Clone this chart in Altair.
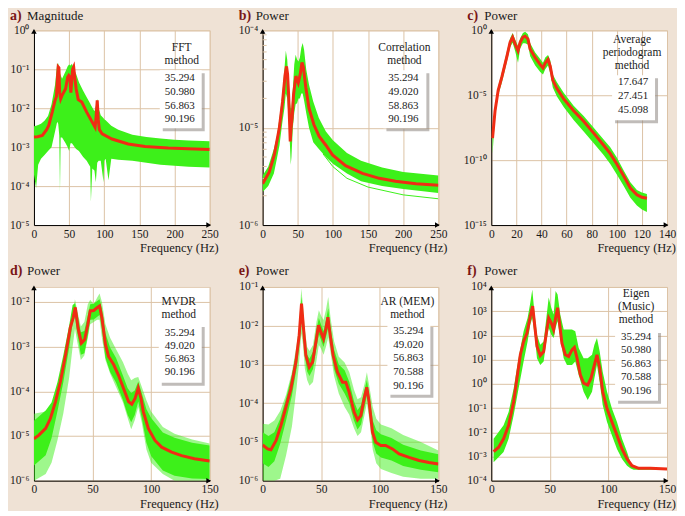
import altair as alt
import pandas as pd

# ---------------- data (log10 exponents) ----------------
# a) FFT magnitude
a_band_f = [0, 3, 6, 10, 15, 20, 25, 30, 33, 34.5, 36, 37, 38, 40, 45, 48, 50, 52, 54, 56,
            58, 60, 64, 70, 75, 80, 81, 83, 86, 88, 90, 92, 95, 99, 100, 102, 106, 110, 120, 140,
            160, 180, 200, 220, 250]
a_band_hi = [-2.46, -2.45, -2.43, -2.40, -2.32, -2.20, -1.90, -1.40, -0.86, -0.85,
             -1.00, -1.10, -1.15, -1.24, -1.05, -0.92, -0.88, -0.90, -0.86, -0.95,
             -1.05, -1.12, -1.33, -1.55, -1.72, -1.88, -1.92, -1.98, -2.08, -1.95,
             -1.76, -2.00, -2.18, -2.26, -2.28, -2.31, -2.38, -2.45, -2.55, -2.68,
             -2.74, -2.78, -2.81, -2.83, -2.85]
a_band_lo = [-3.70, -4.05, -3.45, -3.30, -3.20, -3.10, -3.00, -2.60, -2.35, -2.40,
             -2.70, -4.15, -2.75, -2.75, -2.90, -3.00, -3.10, -2.90, -2.90, -2.95,
             -3.00, -3.05, -3.10, -3.25, -3.35, -3.50, -4.40, -3.55, -3.60, -3.90,
             -3.40, -3.35, -3.35, -3.90, -3.35, -3.30, -3.85, -3.30, -3.32, -3.35,
             -3.40, -3.45, -3.48, -3.50, -3.52]
a_red_f = [0, 5, 12, 18, 21, 26, 30, 32, 33.5, 34.5, 35.5, 36.5, 38, 40, 45, 48, 49.5, 51, 52.5, 53.5,
           55, 56.5, 58, 60, 63, 68, 75, 83, 87, 88.5, 90, 91.5, 93, 97, 111, 134, 158, 191, 219, 250]
a_red_v = [-2.74, -2.73, -2.70, -2.55, -2.44, -2.10, -1.80, -1.70, -1.20, -0.94,
           -0.96, -1.60, -1.76, -1.67, -1.50, -1.20, -1.16, -1.20, -1.60, -1.35,
           -1.00, -0.94, -1.20, -1.50, -1.78, -1.84, -2.10, -2.36, -2.49, -2.20,
           -1.80, -2.30, -2.55, -2.66, -2.79, -2.92, -2.98, -3.02, -3.04, -3.06]

# b) Correlation method
b_band_f = [0, 8, 16, 20, 24, 28, 31, 33, 35, 37, 39, 40, 41, 43, 45, 47, 49, 51, 53, 55,
            57, 59, 62, 66, 72, 80, 90, 100, 120, 140, 170, 200, 250]
b_band_hi = [-5.49, -5.40, -5.22, -5.10, -4.90, -4.66, -4.40, -4.21, -4.30, -4.55,
             -4.75, -4.80, -4.80, -4.60, -4.35, -4.25, -4.30, -4.32, -4.28, -4.18,
             -4.13, -4.20, -4.40, -4.56, -4.73, -4.90, -5.04, -5.13, -5.26, -5.34,
             -5.41, -5.455, -5.49]
b_band_lo = [-5.66, -5.60, -5.47, -5.33, -5.18, -4.95, -4.80, -4.65, -4.70, -4.90,
             -5.20, -5.38, -5.30, -5.00, -4.85, -4.76, -4.75, -4.70, -4.70, -4.65,
             -4.65, -4.72, -4.85, -5.00, -5.15, -5.22, -5.30, -5.37, -5.47, -5.55,
             -5.60, -5.63, -5.67]
b_out_f = [86, 100, 120, 150, 200, 250]
b_out_v = [-5.27, -5.40, -5.52, -5.61, -5.69, -5.73]
b_red_f = [0, 9.5, 16.6, 23.7, 28.4, 32, 34, 35.5, 37, 39.3, 40.5, 42, 44, 47.3, 50.7, 53.5, 56, 58,
           61.5, 66, 73, 80.5, 90, 99.4, 118, 142, 166, 189, 218, 250]
b_red_v = [-5.576, -5.455, -5.28, -5.007, -4.73, -4.455, -4.37, -4.45, -4.66, -5.14,
           -5.0, -4.9, -4.66, -4.47, -4.54, -4.45, -4.33, -4.38, -4.59, -4.80,
           -4.97, -5.09, -5.18, -5.28, -5.39, -5.47, -5.52, -5.55, -5.576, -5.59]
b_minor = [2e-6, 3e-6, 4e-6, 5e-6, 6e-6, 7e-6, 8e-6, 9e-6,
           2e-5, 3e-5, 4e-5, 5e-5, 6e-5, 7e-5, 8e-5, 9e-5]

# c) Average periodogram
c_f = [1, 3, 5.5, 8.5, 12.5, 15, 17, 19, 21.3, 23, 25.2, 27, 29.2, 31, 35, 39, 41.2, 43, 45.2, 47,
       49, 52.3, 57.7, 65.6, 73.6, 81.6, 89.5, 94.8, 100, 105.5, 110.8, 116, 120, 124]
c_red = [-8.3, -6.2, -4.62, -3.56, -1.98, -0.92, -0.53, -1.06, -1.58, -0.92,
         -0.53, -0.45, -0.66, -1.45, -2.11, -2.64, -2.90, -2.51, -2.24, -2.77,
         -3.83, -4.49, -5.28, -6.2, -7.0, -7.92, -8.85, -9.5, -10.3, -11.22,
         -12.15, -12.67, -12.86, -12.94]
c_hi = [-7.9, -5.9, -4.3, -3.2, -1.6, -0.6, -0.2, -0.7, -1.2, -0.6,
        -0.2, -0.1, -0.3, -1.0, -1.7, -2.2, -2.5, -2.1, -1.9, -2.3,
        -3.4, -4.0, -4.8, -5.8, -6.6, -7.5, -8.4, -9.0, -9.8, -10.8,
        -11.7, -12.3, -12.5, -12.6]
c_lo = [-9.5, -6.7, -5.0, -4.0, -2.4, -1.3, -0.95, -1.6, -2.5, -1.4,
        -1.0, -1.0, -1.1, -2.0, -2.7, -3.2, -3.4, -3.0, -2.7, -3.3,
        -4.4, -5.1, -5.9, -6.9, -7.8, -8.7, -9.6, -10.3, -11.1, -12.0,
        -12.9, -13.5, -13.8, -14.0]

# d) MVDR
d_band_f = [0, 10, 15, 20, 25, 30, 33, 35, 37, 40, 43, 46, 48, 51, 54, 56, 58, 61, 65, 70,
            76, 80, 83, 86, 89, 92, 96, 100, 110, 120, 135, 150]
d_out_hi = [-4.50, -4.45, -4.30, -3.95, -3.50, -2.90, -2.30, -1.94, -2.20, -2.55,
            -2.45, -2.05, -1.95, -2.05, -1.90, -1.81, -2.00, -2.50, -2.80, -3.05,
            -3.35, -3.60, -3.75, -3.70, -3.68, -3.90, -4.20, -4.45, -4.80, -4.95,
            -5.08, -5.17]
d_out_lo = [-6.0, -5.85, -5.6, -5.1, -4.5, -3.7, -3.0, -2.6, -2.9, -3.3,
            -3.2, -2.8, -2.5, -2.45, -2.4, -2.4, -2.8, -3.3, -3.6, -3.9,
            -4.25, -4.6, -4.85, -4.65, -4.35, -4.7, -5.3, -5.6, -5.85, -6.0,
            -6.0, -6.0]
d_in_hi = [-4.66, -4.43, -4.25, -3.80, -3.20, -2.53, -2.07, -2.03, -2.25, -2.68,
           -2.65, -2.30, -2.05, -2.04, -1.98, -1.94, -2.15, -2.70, -3.02, -3.25,
           -3.65, -3.93, -4.04, -3.98, -3.78, -4.04, -4.40, -4.60, -4.92, -5.04,
           -5.15, -5.21]
d_in_lo = [-5.66, -5.43, -5.05, -4.45, -3.80, -3.03, -2.47, -2.33, -2.70, -3.18,
           -3.15, -2.75, -2.40, -2.39, -2.33, -2.29, -2.60, -3.25, -3.57, -3.80,
           -4.20, -4.53, -4.69, -4.53, -4.23, -4.59, -5.15, -5.45, -5.77, -5.89,
           -5.95, -5.96]
d_red_f = [0, 4.2, 10, 14, 18.4, 22.6, 27, 31, 33.5, 35.3, 37.6, 40.5, 43.3, 46, 48, 51, 53.8, 56, 58, 61,
           63.7, 68, 72, 76.4, 80.7, 83.5, 86.3, 89, 91.4, 93.4, 97.6, 103.3, 109, 117.5, 126, 137, 150]
d_red_v = [-5.06, -4.98, -4.83, -4.61, -4.23, -3.78, -3.18, -2.58, -2.35, -2.12,
           -2.58, -2.92, -2.84, -2.50, -2.20, -2.19, -2.13, -2.09, -2.35, -2.95,
           -3.22, -3.40, -3.63, -3.93, -4.23, -4.29, -4.16, -3.93, -4.16, -4.46,
           -4.83, -5.10, -5.25, -5.36, -5.44, -5.51, -5.56]

# e) AR (MEM)
e_band_f = [0, 5, 10, 15, 20, 25, 29, 31, 33, 34.5, 36, 38, 40, 43, 46, 48, 50, 52, 54, 56,
            58, 61, 65, 70, 74, 78, 81, 84, 87, 89, 91, 94, 97, 101, 110, 120, 135, 150]
e_out_hi = [-4.53, -4.55, -4.45, -4.20, -3.78, -3.20, -2.50, -2.05, -1.04, -1.50,
            -2.10, -2.55, -2.65, -2.50, -1.90, -1.60, -1.75, -1.85, -1.60, -1.26,
            -1.80, -2.40, -2.80, -2.95, -3.20, -3.65, -3.90, -3.85, -3.50, -3.20,
            -3.55, -4.10, -4.40, -4.55, -4.65, -4.82, -5.00, -5.22]
e_out_lo = [-6.0, -6.0, -6.0, -5.95, -5.35, -4.6, -3.6, -3.0, -2.2, -2.5,
            -3.1, -3.4, -3.55, -3.45, -2.9, -2.5, -2.6, -2.75, -2.55, -2.3,
            -2.7, -3.3, -3.75, -4.1, -4.3, -4.65, -4.85, -4.75, -4.3, -4.0,
            -4.4, -5.2, -5.55, -5.7, -5.8, -5.9, -5.95, -5.95]
e_in_hi = [-4.75, -4.85, -4.75, -4.40, -3.88, -3.28, -2.62, -2.15, -1.25, -1.70,
           -2.30, -2.75, -2.85, -2.67, -2.10, -1.80, -1.98, -2.14, -1.88, -1.55,
           -2.05, -2.62, -3.00, -3.15, -3.45, -3.95, -4.18, -4.05, -3.65, -3.40,
           -3.78, -4.45, -4.70, -4.80, -4.90, -5.07, -5.22, -5.32]
e_in_lo = [-5.55, -5.65, -5.50, -5.05, -4.45, -3.80, -3.10, -2.58, -1.80, -2.15,
           -2.75, -3.18, -3.30, -3.12, -2.55, -2.22, -2.38, -2.55, -2.30, -2.05,
           -2.52, -3.12, -3.50, -3.75, -4.00, -4.45, -4.68, -4.55, -4.10, -3.80,
           -4.22, -5.00, -5.30, -5.40, -5.48, -5.62, -5.72, -5.78]
e_red_f = [0, 4.3, 7.1, 11.4, 15.6, 19.9, 24.1, 28.4, 31.2, 33.2, 34.7, 36.9, 39.8, 42.6, 45.5, 47.7,
           49.7, 52, 54, 55.7, 57.7, 60.2, 63.9, 68.2, 71, 73.9, 78.1, 81, 83.8, 86.6, 88.9, 90.9,
           93.8, 96.6, 100.9, 105, 110.8, 116.5, 125, 133.5, 142, 150]
e_red_v = [-5.08, -5.18, -5.20, -4.97, -4.58, -4.10, -3.63, -2.94, -2.25, -1.43,
           -1.99, -2.77, -3.07, -2.94, -2.42, -1.99, -2.16, -2.34, -2.08, -1.78,
           -2.25, -2.77, -3.20, -3.46, -3.46, -3.72, -4.23, -4.43, -4.32, -3.89,
           -3.59, -3.97, -4.75, -5.01, -5.09, -5.09, -5.18, -5.31, -5.40, -5.48,
           -5.53, -5.57]

# f) Eigen (Music)
f_band_f = [2, 10.5, 14.8, 19.1, 23.3, 27.6, 31, 33.3, 35, 37, 39, 41.8, 44.7, 47, 49, 51.2, 53.2,
            54.9, 56.6, 58.9, 61.8, 64.6, 68.9, 71.7, 74.6, 78.8, 82.3, 86, 88, 90.2, 92.5, 95.1,
            98.8, 103, 107.3, 111.6, 115.9, 118.7, 121.5, 125.8, 150]
f_hi = [-2.27, -1.71, -1.16, -0.19, 1.06, 2.17, 2.72, 3.35, 3.90, 2.86,
        2.03, 1.61, 1.75, 2.72, 3.56, 3.14, 2.86, 3.83, 3.69, 2.86,
        2.24, 2.24, 2.24, 2.17, 1.48, 1.06, 1.06, 1.20, 1.61, 1.89,
        1.34, 0.50, -0.33, -1.02, -1.58, -2.27, -2.82, -3.24, -3.45, -3.49, -3.52]
f_lo = [-3.24, -2.82, -2.27, -1.30, -0.19, 0.92, 1.75, 2.45, 2.72, 2.03,
        1.06, 0.78, 0.92, 1.75, 2.31, 2.03, 1.89, 2.31, 2.59, 1.89,
        1.06, 0.78, 0.78, 0.92, 0.37, -0.33, -0.67, -0.33, 0.23, 0.78,
        0.09, -0.88, -1.58, -2.13, -2.69, -3.10, -3.38, -3.49, -3.55, -3.55, -3.55]
f_red_f = [2, 6.3, 10.5, 14.8, 19.1, 21.9, 24.8, 27.6, 30.5, 33.3, 35.3, 37, 39, 41.8, 44.7, 47, 49,
           51.2, 53.2, 54.9, 56.6, 58.4, 60.3, 63.2, 66, 68.9, 70.9, 73.2, 76, 78.8, 82.3, 85.1, 88,
           90.2, 92.5, 95.1, 98.8, 103, 107.3, 111.6, 115.9, 120.1, 125.8, 135.8, 150]
f_red_v = [-2.80, -2.62, -2.27, -1.71, -0.74, 0.23, 1.20, 1.75, 2.10, 2.79,
           3.21, 2.45, 1.55, 1.17, 1.33, 2.10, 2.72, 2.51, 2.24, 2.72,
           3.14, 2.45, 1.68, 1.20, 1.13, 1.40, 1.50, 1.06, 0.37, 0.03,
           -0.05, 0.23, 0.78, 1.20, 0.65, -0.33, -1.02, -1.58, -2.13, -2.69,
           -3.10, -3.38, -3.49, -3.49, -3.52]

# text content
letters = ["a)", "b)", "c)", "d)", "e)", "f)"]
ytitles = ["Magnitude", "Power", "Power", "Power", "Power", "Power"]
methods = [["FFT", "method"], ["Correlation", "method"], ["Average", "periodogram", "method"],
           ["MVDR", "method"], ["AR (MEM)", "method"], ["Eigen", "(Music)", "method"]]
peaks = [["35.294", "50.980", "56.863", "90.196"],
         ["35.294", "49.020", "58.863", "90.196"],
         ["17.647", "27.451", "45.098"],
         ["35.294", "49.020", "56.863", "90.196"],
         ["35.294", "49.020", "56.863", "70.588", "90.196"],
         ["35.294", "50.980", "56.863", "70.588", "90.196"]]
xtick_ab = [0, 50, 100, 150, 200, 250]
xtick_c = [0, 20, 40, 60, 80, 100, 120, 140]
xtick_def = [0, 50, 100, 150]
a_ye = [0, -1, -2, -3, -4, -5]
a_yl = ["10⁰", "10⁻¹", "10⁻²", "10⁻³", "10⁻⁴", "10⁻⁵"]
b_ye = [-4, -5, -6]
b_yl = ["10⁻⁴", "10⁻⁵", "10⁻⁶"]
c_ye = [0, -5, -10, -15]
c_yl = ["10⁰", "10⁻⁵", "10⁻¹⁰", "10⁻¹⁵"]
d_ye = [-2, -3, -4, -5, -6]
d_yl = ["10⁻²", "10⁻³", "10⁻⁴", "10⁻⁵", "10⁻⁶"]
e_ye = [-1, -2, -3, -4, -5, -6]
e_yl = ["10⁻¹", "10⁻²", "10⁻³", "10⁻⁴", "10⁻⁵", "10⁻⁶"]
f_ye = [4, 3, 2, 1, 0, -1, -2, -3, -4]
f_yl = ["10⁴", "10³", "10²", "10¹", "10⁰", "10⁻¹", "10⁻²", "10⁻³", "10⁻⁴"]

# ---------------- styling ----------------
BG = "#efe2d5"
GREEN = "#3df01a"
RED = "#f02c14"
GRID = "#dcc3a6"
FRAME = "#e3cdb6"
MAROON = "#7a1616"
FONT = "Liberation Serif"
TXT = "#1a1a1a"
W = 176


def band(f, hi, lo):
    return pd.DataFrame({"f": f, "hi": [10.0 ** v for v in hi], "lo": [10.0 ** v for v in lo]})


def line(f, v):
    return pd.DataFrame({"f": f, "v": [10.0 ** x for x in v]})


def label_expr(exps, labels):
    parts = [f"abs(log(datum.value)/LN10-({e}))<0.01?'{l}'" for e, l in zip(exps, labels)]
    return ":".join(parts) + ":''"


def tlayer(rows, **mk):
    df = pd.DataFrame(rows, columns=["t", "px", "py"])
    return alt.Chart(df).mark_text(**mk).encode(
        text="t:N",
        x=alt.X("px:Q", scale=None, axis=None),
        y=alt.Y("py:Q", scale=None, axis=None),
    )


ONE = pd.DataFrame({"k": [0]})


def rect(x1, x2, y1, y2, **mk):
    return alt.Chart(ONE).mark_rect(**mk).encode(
        x=alt.value(x1), x2=alt.value(x2), y=alt.value(y1), y2=alt.value(y2))


def make_panel(P):
    H = P["h"]
    xs = alt.Scale(domain=P["xdom"], nice=False, zero=False)
    ys = alt.Scale(type="log", domain=P["ydom"], nice=False)
    xax = alt.Axis(values=P["xt"], grid=True, gridColor=GRID, ticks=False, domainColor="black",
                   labelFont=FONT, labelFontSize=11.5, labelColor=TXT, labelPadding=3,
                   labelFlush=False, labelOverlap=False, title=None)
    yax = alt.Axis(values=[10.0 ** e for e in P["ye"]], labelExpr=label_expr(P["ye"], P["yl"]),
                   grid=True, gridColor=GRID, ticks=False, domainColor="black",
                   labelFont=FONT, labelFontSize=11.5, labelColor=TXT, labelPadding=5,
                   labelOverlap=False, title=None)
    X = alt.X("f:Q", scale=xs, axis=xax)
    layers = []
    for df, op in P["bands"]:
        layers.append(alt.Chart(df).mark_area(color=GREEN, opacity=op, clip=True).encode(
            x=X, y=alt.Y("lo:Q", scale=ys, axis=yax), y2="hi:Q"))
    for df in P.get("thin", []):
        layers.append(alt.Chart(df).mark_line(color=GREEN, strokeWidth=1, clip=True).encode(
            x=X, y=alt.Y("v:Q", scale=ys, axis=yax)))
    if "minor" in P:
        layers.append(alt.Chart(pd.DataFrame({"v": P["minor"]})).mark_rule(color=GRID).encode(
            y=alt.Y("v:Q", scale=ys, axis=yax), x=alt.value(0), x2=alt.value(4)))
    layers.append(alt.Chart(P["red"]).mark_line(color=RED, strokeWidth=3, clip=True).encode(
        x=X, y=alt.Y("v:Q", scale=ys, axis=yax)))

    # method label and peak box
    cx, mys = P["mpos"]
    layers.append(tlayer([(t, cx, y) for t, y in zip(P["method"], mys)],
                         font=FONT, fontSize=11.5, color=TXT, align="center", baseline="middle"))
    bx1, bx2, by1, by2 = P["box"]
    layers.append(rect(bx1 + 3, bx2 + 3, by1 + 3, by2 + 3, fill="#8c8580", opacity=0.55))
    layers.append(rect(bx1, bx2, by1, by2, fill="white"))
    ncx, ny0, nstep = P["npos"]
    layers.append(tlayer([(t, ncx, ny0 + i * nstep) for i, t in enumerate(P["peaks"])],
                         font=FONT, fontSize=11, color=TXT, align="center", baseline="middle"))

    # panel titles and x title
    ty = P["ty"]
    layers.append(tlayer([(P["letter"], -24, ty)], font=FONT, fontSize=14, fontWeight="bold",
                         color=MAROON, align="left", baseline="middle"))
    layers.append(tlayer([(P["ytitle"], -7, ty)], font=FONT, fontSize=13, color=TXT,
                         align="left", baseline="middle"))
    layers.append(tlayer([("Frequency (Hz)", W + 9, H + 23)], font=FONT, fontSize=12.5,
                         color=TXT, align="right", baseline="middle"))

    # arrow heads
    layers.append(alt.Chart(ONE).mark_point(shape="triangle-up", filled=True, color="black",
                                            size=30, opacity=1).encode(x=alt.value(0), y=alt.value(1)))
    layers.append(alt.Chart(ONE).mark_point(shape="triangle-right", filled=True, color="black",
                                            size=30, opacity=1).encode(x=alt.value(W - 1), y=alt.value(H)))
    return alt.layer(*layers).properties(width=W, height=H)


panels_spec = [
    dict(letter=letters[0], ytitle=ytitles[0], h=195, xdom=[0, 250], xt=xtick_ab,
         ydom=[1e-5, 1.0], ye=a_ye, yl=a_yl,
         bands=[(band(a_band_f, a_band_hi, a_band_lo), 1.0)],
         red=line(a_red_f, a_red_v), method=methods[0], peaks=peaks[0],
         mpos=(148, [18, 31]), box=(126, 168, 40, 98), npos=(146, 48, 13.7), ty=-14),
    dict(letter=letters[1], ytitle=ytitles[1], h=195, xdom=[0, 250], xt=xtick_ab,
         ydom=[1e-6, 1e-4], ye=b_ye, yl=b_yl,
         bands=[(band(b_band_f, b_band_hi, b_band_lo), 1.0)],
         thin=[line(b_out_f, b_out_v)], minor=b_minor,
         red=line(b_red_f, b_red_v), method=methods[1], peaks=peaks[1],
         mpos=(142, [18, 31]), box=(121, 164, 40, 98), npos=(141, 48, 13.7), ty=-14),
    dict(letter=letters[2], ytitle=ytitles[2], h=195, xdom=[0, 140], xt=xtick_c,
         ydom=[1e-15, 1.0], ye=c_ye, yl=c_yl,
         bands=[(band(c_f, c_hi, c_lo), 1.0)],
         red=line(c_f, c_red), method=methods[2], peaks=peaks[2],
         mpos=(141, [10, 23, 36]), box=(121, 164, 45, 90), npos=(142, 52, 14), ty=-14),
    dict(letter=letters[3], ytitle=ytitles[3], h=194, xdom=[0, 150], xt=xtick_def,
         ydom=[1e-6, 10 ** -1.664], ye=d_ye, yl=d_yl,
         bands=[(band(d_band_f, d_out_hi, d_out_lo), 0.5), (band(d_band_f, d_in_hi, d_in_lo), 1.0)],
         red=line(d_red_f, d_red_v), method=methods[3], peaks=peaks[3],
         mpos=(145, [15, 28]), box=(125, 168, 37, 96), npos=(146, 46, 13), ty=-16),
    dict(letter=letters[4], ytitle=ytitles[4], h=194, xdom=[0, 150], xt=xtick_def,
         ydom=[1e-6, 1e-1], ye=e_ye, yl=e_yl,
         bands=[(band(e_band_f, e_out_hi, e_out_lo), 0.5), (band(e_band_f, e_in_hi, e_in_lo), 1.0)],
         red=line(e_red_f, e_red_v), method=methods[4], peaks=peaks[4],
         mpos=(145, [15, 28]), box=(125, 168, 37, 108), npos=(146, 44, 13.7), ty=-16),
    dict(letter=letters[5], ytitle=ytitles[5], h=194, xdom=[0, 150], xt=xtick_def,
         ydom=[1e-4, 1e4], ye=f_ye, yl=f_yl,
         bands=[(band(f_band_f, f_hi, f_lo), 1.0)],
         red=line(f_red_f, f_red_v), method=methods[5], peaks=peaks[5],
         mpos=(145, [7, 20, 33]), box=(124, 167, 43, 114), npos=(145, 50, 13.5), ty=-16),
]

panels = [make_panel(P) for P in panels_spec]

chart = alt.concat(*panels, columns=3, spacing={"row": 62, "column": 53}, bounds="flush").properties(
    padding={"left": 0, "top": 0, "right": 0, "bottom": 0}
).configure(background=BG, font=FONT).configure_view(fill="white", stroke=FRAME, strokeWidth=1)

chart.save("out.html", embed_options={"renderer": "svg", "actions": False})
